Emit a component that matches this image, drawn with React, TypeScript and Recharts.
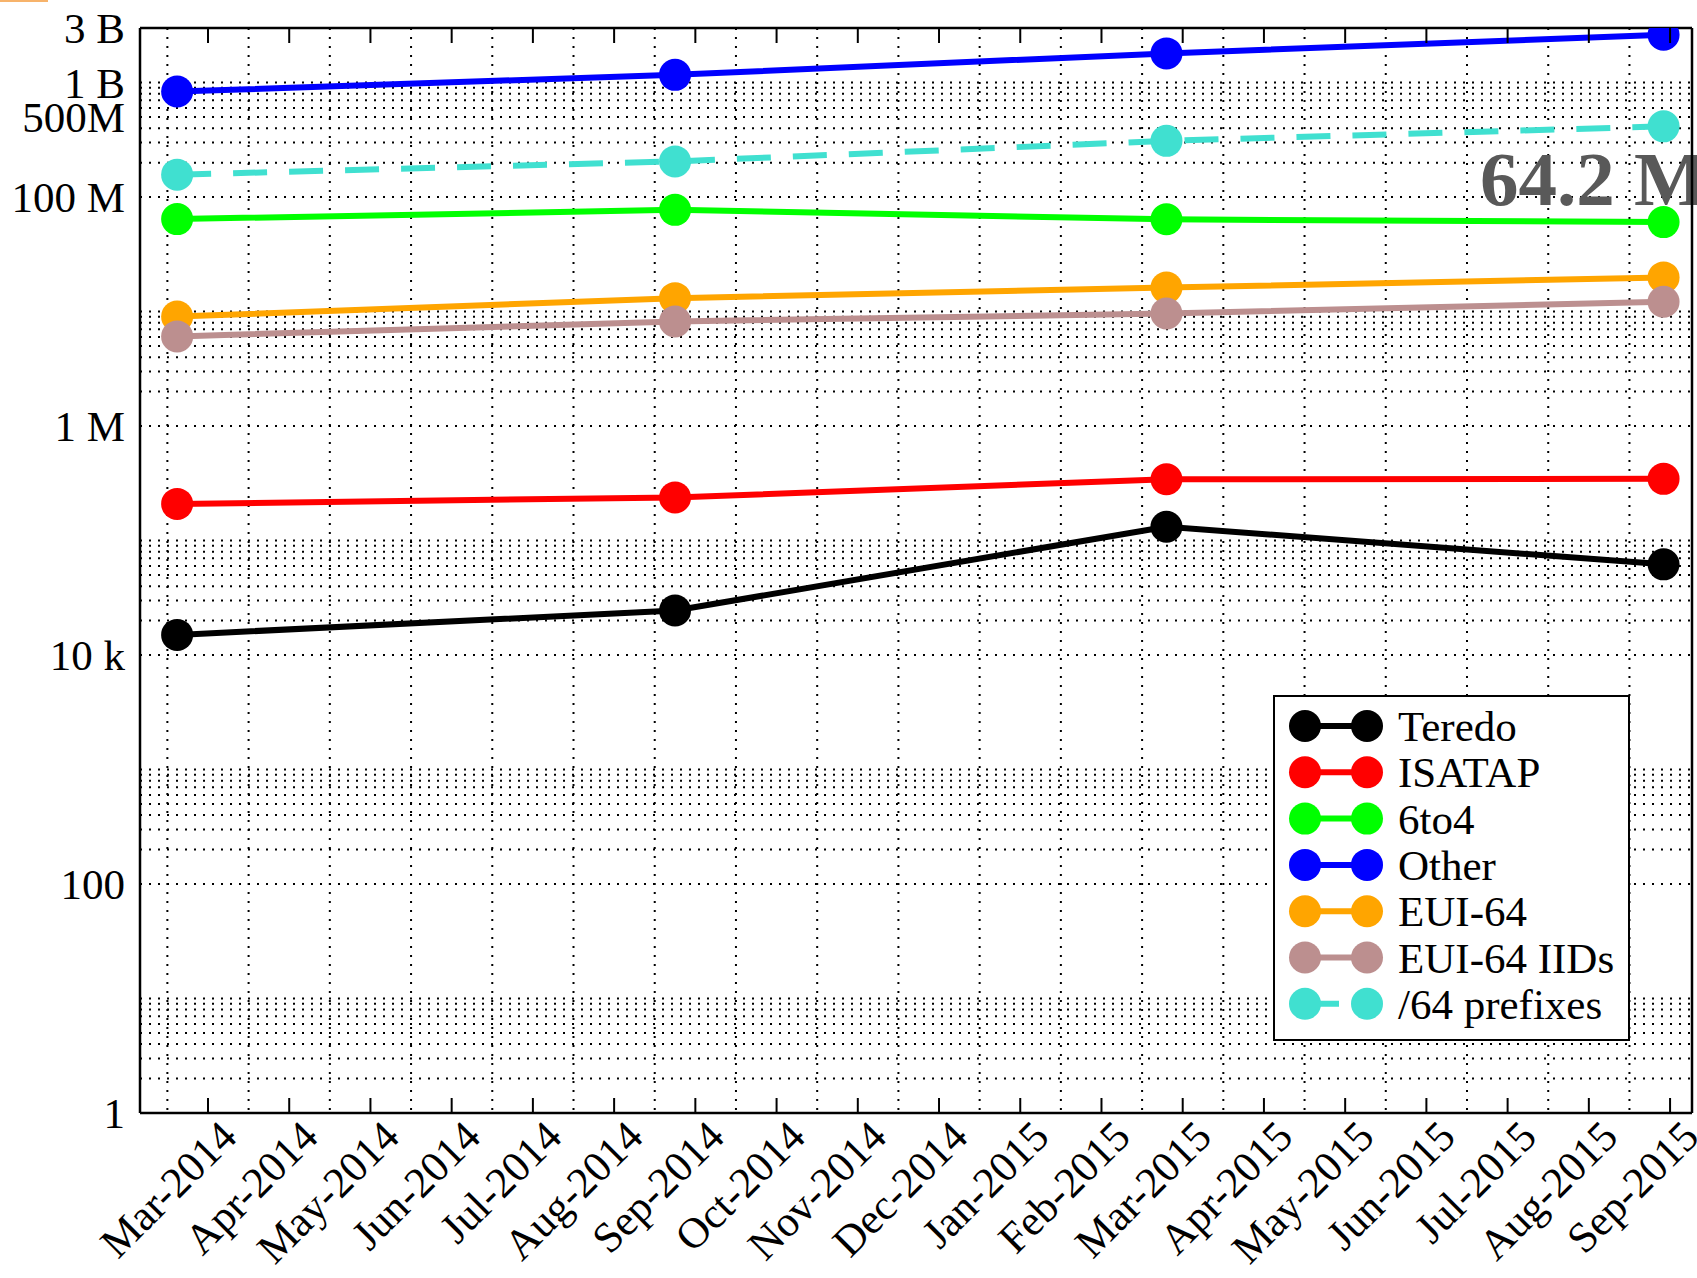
import React from "react";
import {
  LineChart,
  Line,
  XAxis,
  YAxis,
  CartesianGrid,
  Customized,
} from "recharts";

// ---- data ----
const monthLabels = [
  "Mar-2014", "Apr-2014", "May-2014", "Jun-2014", "Jul-2014", "Aug-2014",
  "Sep-2014", "Oct-2014", "Nov-2014", "Dec-2014", "Jan-2015", "Feb-2015",
  "Mar-2015", "Apr-2015", "May-2015", "Jun-2015", "Jul-2015", "Aug-2015",
  "Sep-2015",
];
// measurement dates, in months after the "Mar-2014" tick
const sampleMonths = [-0.38, 5.75, 11.8, 17.92];

const teredo = [15000, 24500, 132000, 62000];
const isatap = [209000, 238000, 343000, 346000];
const sixToFour = [64300000, 77400000, 64000000, 60500000];
const other = [836000000, 1170000000, 1800000000, 2620000000];
const eui64 = [9050000, 13100000, 16200000, 19900000];
const eui64Iids = [6070000, 8190000, 9630000, 12200000];
const prefixes64 = [157000000, 205000000, 310000000, 415000000];

const yLabelValues = [1, 100, 1e4, 1e6, 1e8, 5e8, 1e9, 3e9];
const yLabelTexts = ["1", "100", "10 k", "1 M", "100 M", "500M", "1 B", "3 B"];

const annotation = "64.2 M";

// ---- derived ----
const seriesDefs = [
  { key: "teredo", name: "Teredo", color: "#000000", values: teredo, dash: undefined as string | undefined },
  { key: "isatap", name: "ISATAP", color: "#ff0000", values: isatap, dash: undefined },
  { key: "sixToFour", name: "6to4", color: "#00ff00", values: sixToFour, dash: undefined },
  { key: "other", name: "Other", color: "#0000ff", values: other, dash: undefined },
  { key: "eui64", name: "EUI-64", color: "#ffa500", values: eui64, dash: undefined },
  { key: "eui64Iids", name: "EUI-64 IIDs", color: "#bc8f8f", values: eui64Iids, dash: undefined },
  { key: "prefixes64", name: "/64 prefixes", color: "#40e0d0", values: prefixes64, dash: "34 22" },
];

const data = sampleMonths.map((t, i) => {
  const row: Record<string, number> = { t };
  seriesDefs.forEach((s) => (row[s.key] = s.values[i]));
  return row;
});

const monthTicks = monthLabels.map((_, i) => i);
const halfMonthTicks = monthLabels.map((_, i) => i - 0.5);
const decades = [1, 10, 100, 1e3, 1e4, 1e5, 1e6, 1e7, 1e8, 1e9];
const minorDecades = [1, 100, 1e4, 1e6, 1e8];
const gridValues = Array.from(
  new Set(
    [
      ...decades,
      ...minorDecades.flatMap((d) => [2, 3, 4, 5, 6, 7, 8, 9].map((m) => m * d)),
      3e9,
    ].sort((a, b) => a - b)
  )
);

const X_DOMAIN: [number, number] = [-0.837, 18.27];
const Y_DOMAIN: [number, number] = [1, 3e9];
const FONT = "'Liberation Serif', 'Times New Roman', serif";
const W = 1697;
const H = 1278;

const BottomTick = (props: any) => {
  const { x, y, payload } = props;
  const tx = x + 31;
  const ty = y + 26;
  return (
    <g>
      <line x1={x} y1={y} x2={x} y2={y - 15} stroke="#000" strokeWidth={2} />
      <text
        x={tx}
        y={ty}
        transform={`rotate(-45 ${tx} ${ty})`}
        textAnchor="end"
        fontSize={43}
        fontFamily={FONT}
        fill="#000"
      >
        {monthLabels[payload.value]}
      </text>
    </g>
  );
};

const TopTick = (props: any) => {
  const { x, y } = props;
  return <line x1={x} y1={y} x2={x} y2={y + 15} stroke="#000" strokeWidth={2} />;
};

const LeftTick = (props: any) => {
  const { x, y, payload } = props;
  const idx = yLabelValues.indexOf(payload.value);
  if (idx < 0) return <g />;
  return (
    <text
      x={x - 15}
      y={y}
      dy="0.35em"
      textAnchor="end"
      fontSize={43}
      fontFamily={FONT}
      fill="#000"
    >
      {yLabelTexts[idx]}
    </text>
  );
};

const Annotation = () => (
  <text
    x={1480}
    y={205}
    fontSize={77}
    fontWeight="bold"
    fontFamily={FONT}
    fill="#595959"
  >
    {annotation}
  </text>
);

const LegendBox = () => {
  const rowGap = 46.3;
  return (
    <div
      style={{
        position: "absolute",
        left: 1273,
        top: 695,
        width: 357,
        height: 346,
        boxSizing: "border-box",
        border: "2.5px solid #000",
        background: "#fff",
      }}
    >
      <svg width={357} height={346} style={{ position: "absolute", left: -2.5, top: -2.5 }}>
        {seriesDefs.map((s, i) => {
          const cy = 31 + rowGap * i;
          return (
            <g key={s.key}>
              <line
                x1={32}
                y1={cy}
                x2={94}
                y2={cy}
                stroke={s.color}
                strokeWidth={6}
                strokeDasharray={s.dash}
              />
              <circle cx={32} cy={cy} r={16} fill={s.color} />
              <circle cx={94} cy={cy} r={16} fill={s.color} />
              <text
                x={125}
                y={cy}
                dy="0.35em"
                fontSize={43}
                fontFamily={FONT}
                fill="#000"
              >
                {s.name}
              </text>
            </g>
          );
        })}
      </svg>
    </div>
  );
};

export default function App() {
  return (
    <div style={{ position: "absolute", left: 0, top: 0, width: W, height: H, background: "#fff" }}>
      <div style={{ position: "absolute", left: 0, top: 0, width: 48, height: 2, background: "#f7b36b" }} />
      <LineChart width={W} height={H} data={data} margin={{ top: 0, right: 0, bottom: 0, left: 0 }}>
        <XAxis
          xAxisId="grid"
          dataKey="t"
          type="number"
          domain={X_DOMAIN}
          allowDataOverflow
          ticks={halfMonthTicks}
          interval={0}
          hide
        />
        <CartesianGrid
          xAxisId="grid"
          stroke="#000"
          strokeWidth={2}
          strokeDasharray="2 7"
        />
        <XAxis
          dataKey="t"
          type="number"
          domain={X_DOMAIN}
          allowDataOverflow
          ticks={monthTicks}
          interval={0}
          height={165}
          tickSize={0}
          tickMargin={0}
          tickLine={false}
          axisLine={{ stroke: "#000", strokeWidth: 2.5 }}
          tick={BottomTick}
        />
        <XAxis
          xAxisId="top"
          orientation="top"
          dataKey="t"
          type="number"
          domain={X_DOMAIN}
          allowDataOverflow
          ticks={monthTicks}
          interval={0}
          height={28}
          tickSize={0}
          tickMargin={0}
          tickLine={false}
          axisLine={{ stroke: "#000", strokeWidth: 2.5 }}
          tick={TopTick}
        />
        <YAxis
          type="number"
          scale="log"
          domain={Y_DOMAIN}
          allowDataOverflow
          ticks={gridValues}
          interval={0}
          width={140}
          tickSize={0}
          tickMargin={0}
          tickLine={false}
          axisLine={{ stroke: "#000", strokeWidth: 2.5 }}
          tick={LeftTick}
        />
        <YAxis
          yAxisId="right"
          orientation="right"
          type="number"
          scale="log"
          domain={Y_DOMAIN}
          allowDataOverflow
          width={5}
          tick={false}
          tickLine={false}
          axisLine={{ stroke: "#000", strokeWidth: 2.5 }}
        />
        {seriesDefs.map((s) => (
          <Line
            key={s.key}
            dataKey={s.key}
            name={s.name}
            type="linear"
            stroke={s.color}
            strokeWidth={6}
            strokeDasharray={s.dash}
            dot={{ r: 16, fill: s.color, stroke: s.color, strokeWidth: 0, strokeDasharray: "" }}
            activeDot={false}
            isAnimationActive={false}
          />
        ))}
        <Customized component={Annotation} />
      </LineChart>
      <LegendBox />
    </div>
  );
}
